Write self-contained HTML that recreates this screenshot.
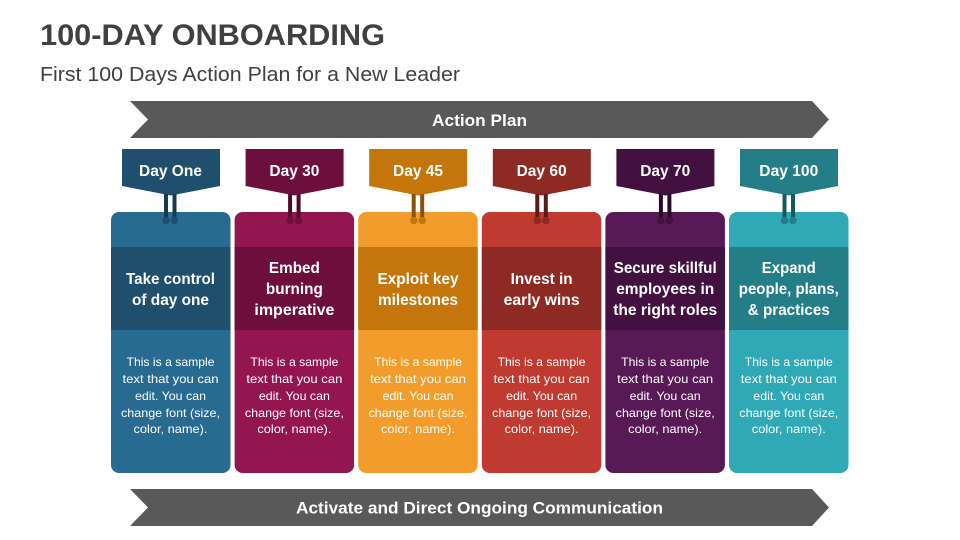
<!DOCTYPE html>
<html><head><meta charset="utf-8"><style>
html,body{margin:0;padding:0;background:#fff;}
svg{display:block;}
text{font-family:"Liberation Sans",sans-serif;}
</style></head><body>
<svg width="960" height="540" viewBox="0 0 960 540" xmlns="http://www.w3.org/2000/svg">
<rect width="960" height="540" fill="#fff"/>
<text x="40" y="45" font-size="30" font-weight="bold" fill="#404040" textLength="345" lengthAdjust="spacingAndGlyphs">100-DAY ONBOARDING</text>
<text x="40" y="81" font-size="20" fill="#404040" textLength="420" lengthAdjust="spacingAndGlyphs">First 100 Days Action Plan for a New Leader</text>

<polygon points="130,101 812,101 829,119.5 812,138 130,138 148,119.5" fill="#595959"/>
<text x="479.5" y="126" font-size="17" font-weight="bold" fill="#fff" text-anchor="middle" textLength="95" lengthAdjust="spacingAndGlyphs">Action Plan</text>

<polygon points="130,489 812,489 829,507.5 812,526 130,526 148,507.5" fill="#595959"/>
<text x="479.5" y="513.5" font-size="17" font-weight="bold" fill="#fff" text-anchor="middle" textLength="367" lengthAdjust="spacingAndGlyphs">Activate and Direct Ongoing Communication</text>

<!-- Card template groups -->
<g id="c1">
  <rect x="111" y="212" width="119.5" height="261" rx="8" fill="#286B91"/>
  <rect x="111" y="247" width="119.5" height="83" fill="#1F4F6C"/>
  <polygon points="122,149 220,149 220,186 171,195.5 122,186" fill="#1F4F6C"/>
  <rect x="164" y="194" width="4" height="27" fill="#153B53"/>
  <rect x="172.5" y="194" width="4" height="27" fill="#153B53"/>
  <circle cx="166" cy="220.5" r="3.8" fill="#1F4F6C"/><circle cx="174.5" cy="220.5" r="3.8" fill="#1F4F6C"/>
  <text x="170.5" y="176" font-size="16" font-weight="bold" fill="#fff" text-anchor="middle" textLength="63" lengthAdjust="spacingAndGlyphs">Day One</text>
  <text font-size="16" font-weight="bold" fill="#fff" text-anchor="middle"><tspan x="170.5" y="284" textLength="89" lengthAdjust="spacingAndGlyphs">Take control</tspan><tspan x="170.5" y="305" textLength="77" lengthAdjust="spacingAndGlyphs">of day one</tspan></text>
</g>

<g>
  <rect x="234.6" y="212" width="119.5" height="261" rx="8" fill="#931651"/>
  <rect x="234.6" y="247" width="119.5" height="83" fill="#6D0F3C"/>
  <polygon points="245.6,149 343.6,149 343.6,186 294.6,195.5 245.6,186" fill="#6D0F3C"/>
  <rect x="288.1" y="194" width="4" height="27" fill="#4E0A2B"/>
  <rect x="296.6" y="194" width="4" height="27" fill="#4E0A2B"/>
  <circle cx="290.1" cy="220.5" r="3.8" fill="#6D0F3C"/><circle cx="298.6" cy="220.5" r="3.8" fill="#6D0F3C"/>
  <text x="294.4" y="176" font-size="16" font-weight="bold" fill="#fff" text-anchor="middle" textLength="50" lengthAdjust="spacingAndGlyphs">Day 30</text>
  <text font-size="16" font-weight="bold" fill="#fff" text-anchor="middle"><tspan x="294.4" y="273" textLength="51" lengthAdjust="spacingAndGlyphs">Embed</tspan><tspan x="294.4" y="294" textLength="57" lengthAdjust="spacingAndGlyphs">burning</tspan><tspan x="294.4" y="315" textLength="80" lengthAdjust="spacingAndGlyphs">imperative</tspan></text>
</g>

<g>
  <rect x="358.2" y="212" width="119.5" height="261" rx="8" fill="#F29D2B"/>
  <rect x="358.2" y="247" width="119.5" height="83" fill="#C4760C"/>
  <polygon points="369.2,149 467.2,149 467.2,186 418.2,195.5 369.2,186" fill="#C4760C"/>
  <rect x="411.7" y="194" width="4" height="27" fill="#8A5208"/>
  <rect x="420.2" y="194" width="4" height="27" fill="#8A5208"/>
  <circle cx="413.7" cy="220.5" r="3.8" fill="#C4760C"/><circle cx="422.2" cy="220.5" r="3.8" fill="#C4760C"/>
  <text x="418" y="176" font-size="16" font-weight="bold" fill="#fff" text-anchor="middle" textLength="50" lengthAdjust="spacingAndGlyphs">Day 45</text>
  <text font-size="16" font-weight="bold" fill="#fff" text-anchor="middle"><tspan x="418" y="284" textLength="81" lengthAdjust="spacingAndGlyphs">Exploit key</tspan><tspan x="418" y="305" textLength="80" lengthAdjust="spacingAndGlyphs">milestones</tspan></text>
</g>

<g>
  <rect x="481.8" y="212" width="119.5" height="261" rx="8" fill="#BF3A30"/>
  <rect x="481.8" y="247" width="119.5" height="83" fill="#8C2A23"/>
  <polygon points="492.8,149 590.8,149 590.8,186 541.8,195.5 492.8,186" fill="#8C2A23"/>
  <rect x="535.3" y="194" width="4" height="27" fill="#5E1A16"/>
  <rect x="543.8" y="194" width="4" height="27" fill="#5E1A16"/>
  <circle cx="537.3" cy="220.5" r="3.8" fill="#8C2A23"/><circle cx="545.8" cy="220.5" r="3.8" fill="#8C2A23"/>
  <text x="541.6" y="176" font-size="16" font-weight="bold" fill="#fff" text-anchor="middle" textLength="50" lengthAdjust="spacingAndGlyphs">Day 60</text>
  <text font-size="16" font-weight="bold" fill="#fff" text-anchor="middle"><tspan x="541.6" y="284" textLength="62" lengthAdjust="spacingAndGlyphs">Invest in</tspan><tspan x="541.6" y="305" textLength="76" lengthAdjust="spacingAndGlyphs">early wins</tspan></text>
</g>

<g>
  <rect x="605.4" y="212" width="119.5" height="261" rx="8" fill="#581A57"/>
  <rect x="605.4" y="247" width="119.5" height="83" fill="#42113F"/>
  <polygon points="616.4,149 714.4,149 714.4,186 665.4,195.5 616.4,186" fill="#42113F"/>
  <rect x="658.9" y="194" width="4" height="27" fill="#2B0A29"/>
  <rect x="667.4" y="194" width="4" height="27" fill="#2B0A29"/>
  <circle cx="660.9" cy="220.5" r="3.8" fill="#42113F"/><circle cx="669.4" cy="220.5" r="3.8" fill="#42113F"/>
  <text x="665.2" y="176" font-size="16" font-weight="bold" fill="#fff" text-anchor="middle" textLength="50" lengthAdjust="spacingAndGlyphs">Day 70</text>
  <text font-size="16" font-weight="bold" fill="#fff" text-anchor="middle"><tspan x="665.2" y="273" textLength="103" lengthAdjust="spacingAndGlyphs">Secure skillful</tspan><tspan x="665.2" y="294" textLength="98" lengthAdjust="spacingAndGlyphs">employees in</tspan><tspan x="665.2" y="315" textLength="104" lengthAdjust="spacingAndGlyphs">the right roles</tspan></text>
</g>

<g>
  <rect x="729" y="212" width="119.5" height="261" rx="8" fill="#2FA9B5"/>
  <rect x="729" y="247" width="119.5" height="83" fill="#237E87"/>
  <polygon points="740,149 838,149 838,186 789,195.5 740,186" fill="#237E87"/>
  <rect x="782.5" y="194" width="4" height="27" fill="#185961"/>
  <rect x="791" y="194" width="4" height="27" fill="#185961"/>
  <circle cx="784.5" cy="220.5" r="3.8" fill="#237E87"/><circle cx="793" cy="220.5" r="3.8" fill="#237E87"/>
  <text x="788.8" y="176" font-size="16" font-weight="bold" fill="#fff" text-anchor="middle" textLength="59" lengthAdjust="spacingAndGlyphs">Day 100</text>
  <text font-size="16" font-weight="bold" fill="#fff" text-anchor="middle"><tspan x="788.8" y="273" textLength="54" lengthAdjust="spacingAndGlyphs">Expand</tspan><tspan x="788.8" y="294" textLength="100" lengthAdjust="spacingAndGlyphs">people, plans,</tspan><tspan x="788.8" y="315" textLength="82" lengthAdjust="spacingAndGlyphs">&amp; practices</tspan></text>
</g>

<!-- Body texts -->
<g font-size="12" fill="#fff" text-anchor="middle">
  <text><tspan x="170.5" y="366" textLength="88" lengthAdjust="spacingAndGlyphs">This is a sample</tspan><tspan x="170.5" y="383" textLength="96" lengthAdjust="spacingAndGlyphs">text that you can</tspan><tspan x="170.5" y="400" textLength="71" lengthAdjust="spacingAndGlyphs">edit. You can</tspan><tspan x="170.5" y="417" textLength="99" lengthAdjust="spacingAndGlyphs">change font (size,</tspan><tspan x="170.5" y="433" textLength="74" lengthAdjust="spacingAndGlyphs">color, name).</tspan></text>
  <text><tspan x="294.4" y="366" textLength="88" lengthAdjust="spacingAndGlyphs">This is a sample</tspan><tspan x="294.4" y="383" textLength="96" lengthAdjust="spacingAndGlyphs">text that you can</tspan><tspan x="294.4" y="400" textLength="71" lengthAdjust="spacingAndGlyphs">edit. You can</tspan><tspan x="294.4" y="417" textLength="99" lengthAdjust="spacingAndGlyphs">change font (size,</tspan><tspan x="294.4" y="433" textLength="74" lengthAdjust="spacingAndGlyphs">color, name).</tspan></text>
  <text><tspan x="418" y="366" textLength="88" lengthAdjust="spacingAndGlyphs">This is a sample</tspan><tspan x="418" y="383" textLength="96" lengthAdjust="spacingAndGlyphs">text that you can</tspan><tspan x="418" y="400" textLength="71" lengthAdjust="spacingAndGlyphs">edit. You can</tspan><tspan x="418" y="417" textLength="99" lengthAdjust="spacingAndGlyphs">change font (size,</tspan><tspan x="418" y="433" textLength="74" lengthAdjust="spacingAndGlyphs">color, name).</tspan></text>
  <text><tspan x="541.6" y="366" textLength="88" lengthAdjust="spacingAndGlyphs">This is a sample</tspan><tspan x="541.6" y="383" textLength="96" lengthAdjust="spacingAndGlyphs">text that you can</tspan><tspan x="541.6" y="400" textLength="71" lengthAdjust="spacingAndGlyphs">edit. You can</tspan><tspan x="541.6" y="417" textLength="99" lengthAdjust="spacingAndGlyphs">change font (size,</tspan><tspan x="541.6" y="433" textLength="74" lengthAdjust="spacingAndGlyphs">color, name).</tspan></text>
  <text><tspan x="665.2" y="366" textLength="88" lengthAdjust="spacingAndGlyphs">This is a sample</tspan><tspan x="665.2" y="383" textLength="96" lengthAdjust="spacingAndGlyphs">text that you can</tspan><tspan x="665.2" y="400" textLength="71" lengthAdjust="spacingAndGlyphs">edit. You can</tspan><tspan x="665.2" y="417" textLength="99" lengthAdjust="spacingAndGlyphs">change font (size,</tspan><tspan x="665.2" y="433" textLength="74" lengthAdjust="spacingAndGlyphs">color, name).</tspan></text>
  <text><tspan x="788.8" y="366" textLength="88" lengthAdjust="spacingAndGlyphs">This is a sample</tspan><tspan x="788.8" y="383" textLength="96" lengthAdjust="spacingAndGlyphs">text that you can</tspan><tspan x="788.8" y="400" textLength="71" lengthAdjust="spacingAndGlyphs">edit. You can</tspan><tspan x="788.8" y="417" textLength="99" lengthAdjust="spacingAndGlyphs">change font (size,</tspan><tspan x="788.8" y="433" textLength="74" lengthAdjust="spacingAndGlyphs">color, name).</tspan></text>
</g>
</svg>
</body></html>
